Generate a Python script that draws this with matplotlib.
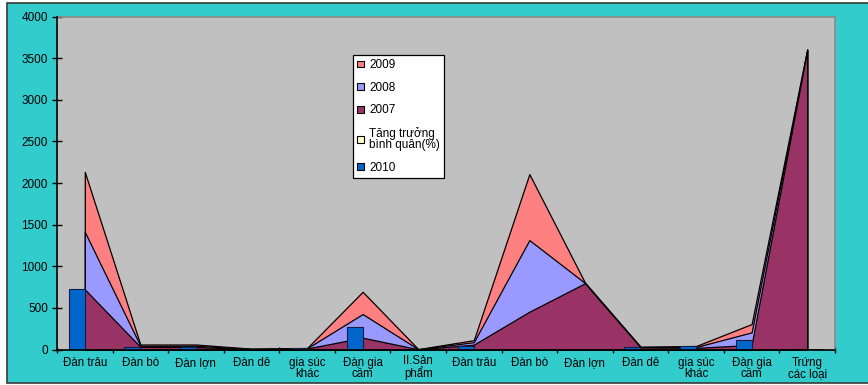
import matplotlib
matplotlib.use("Agg")
import matplotlib.pyplot as plt
from matplotlib.patches import Rectangle, Patch
from matplotlib.transforms import blended_transform_factory
import numpy as np

plt.rcParams['font.family'] = ['Liberation Sans', 'DejaVu Sans']

categories = ["Đàn trâu", "Đàn bò", "Đàn lợn", "Đàn dê", "gia súc\nkhác",
              "Đàn gia\ncầm", "II.Sản\nphẩm", "Đàn trâu", "Đàn bò", "Đàn lợn",
              "Đàn dê", "gia súc\nkhác", "Đàn gia\ncầm", "Trứng\ncác loại"]
y2009 = [2135, 60, 60, 10, 18, 694, 5, 112, 2108, 805, 34, 42, 306, 3610]
y2008 = [1414, 45, 45, 8, 15, 426, 4, 88, 1315, 800, 30, 30, 206, 3605]
y2007 = [723, 32, 30, 6, 12, 142, 3, 58, 454, 796, 26, 20, 55, 3600]
y2010 = [730, 30, 26, 5, 22, 274, 0, 42, 0, 0, 26, 38, 114, 8]
growth = [4.1, 2.3, 3.0, 1.5, 2.0, 6.8, 0.0, 2.5, 5.2, 3.1, 1.8, 2.2, 7.4, 9.5]
yticks = [0, 500, 1000, 1500, 2000, 2500, 3000, 3500, 4000]

W, H = 868, 385
fig = plt.figure(figsize=(W / 100, H / 100), dpi=100)
fig.patch.set_facecolor('white')
fig.add_artist(Rectangle((7 / W, 2 / H), (W + 10) / W, 380 / H,
                         transform=fig.transFigure, facecolor='#33CCCC',
                         edgecolor='#3a3a3a', linewidth=1.2, zorder=0))

ax = fig.add_axes([57 / W, 35.5 / H, 778 / W, 332.8 / H])
ax.set_facecolor('#C0C0C0')
x = np.arange(len(categories))

area_specs = [(y2009, '#FF8080', '2009'), (y2008, '#9999FF', '2008'),
              (y2007, '#993366', '2007')]
for i, (vals, col, lab) in enumerate(area_specs):
    ax.fill_between(x, 0, vals, facecolor=col, edgecolor='black',
                    linewidth=0.9, zorder=2 + i)

w = 0.29
ax.bar(x - w / 2, y2010, width=w, color='#0066CC', edgecolor='#1a1a40',
       linewidth=0.8, zorder=6)
ax.bar(x + w / 2, growth, width=w, color='#FFFFCC', edgecolor='black',
       linewidth=0.5, zorder=6)

ax.set_xlim(-0.5, len(categories) - 0.5)
ax.set_ylim(0, 4000)
ax.set_yticks(yticks)
ax.set_yticklabels([str(v) for v in yticks], fontsize=8.5)
ax.set_xticks(np.arange(len(categories) + 1) - 0.5)
ax.set_xticklabels([])
ax.tick_params(axis='x', which='major', direction='inout', length=5, width=1)
ax.tick_params(axis='y', direction='inout', length=7, width=1, pad=3)

# category labels: baseline of the last line is placed per line count
tr = blended_transform_factory(ax.transData, fig.transFigure)
for xi, lab in zip(x, categories):
    nlines = lab.count('\n') + 1
    ybase = 365.7 + 11.0 * (nlines - 1)
    ax.text(xi, (H - ybase) / H, lab, transform=tr, ha='center',
            va='baseline', fontsize=8.3, linespacing=0.88, clip_on=False)

for s in ['left', 'bottom']:
    ax.spines[s].set_color('black')
    ax.spines[s].set_linewidth(1.2)
    ax.spines[s].set_zorder(10)
for s in ['top', 'right']:
    ax.spines[s].set_color('#8a8a8a')
    ax.spines[s].set_linewidth(1.2)

handles = [Patch(facecolor='#FF8080', edgecolor='black', linewidth=0.8),
           Patch(facecolor='#9999FF', edgecolor='black', linewidth=0.8),
           Patch(facecolor='#993366', edgecolor='black', linewidth=0.8),
           Patch(facecolor='#FFFFCC', edgecolor='black', linewidth=0.8),
           Patch(facecolor='#0066CC', edgecolor='black', linewidth=0.8)]
labels = ['2009', '2008', '2007', 'Tăng trưởng\nbình quân(%)', '2010']
leg = fig.legend(handles, labels, loc='upper left',
                 bbox_to_anchor=(353 / W, 1 - 55 / H), fontsize=8.5,
                 frameon=True, fancybox=False, edgecolor='black',
                 facecolor='white', framealpha=1, handlelength=0.6,
                 handleheight=0.5, handletextpad=0.4, labelspacing=0.9,
                 borderpad=0.35, borderaxespad=0)
for t in leg.get_texts():
    t.set_linespacing(0.9)
leg.get_frame().set_linewidth(0.9)
leg.set_zorder(20)

fig.savefig('out.png', dpi=100, facecolor=fig.get_facecolor())
